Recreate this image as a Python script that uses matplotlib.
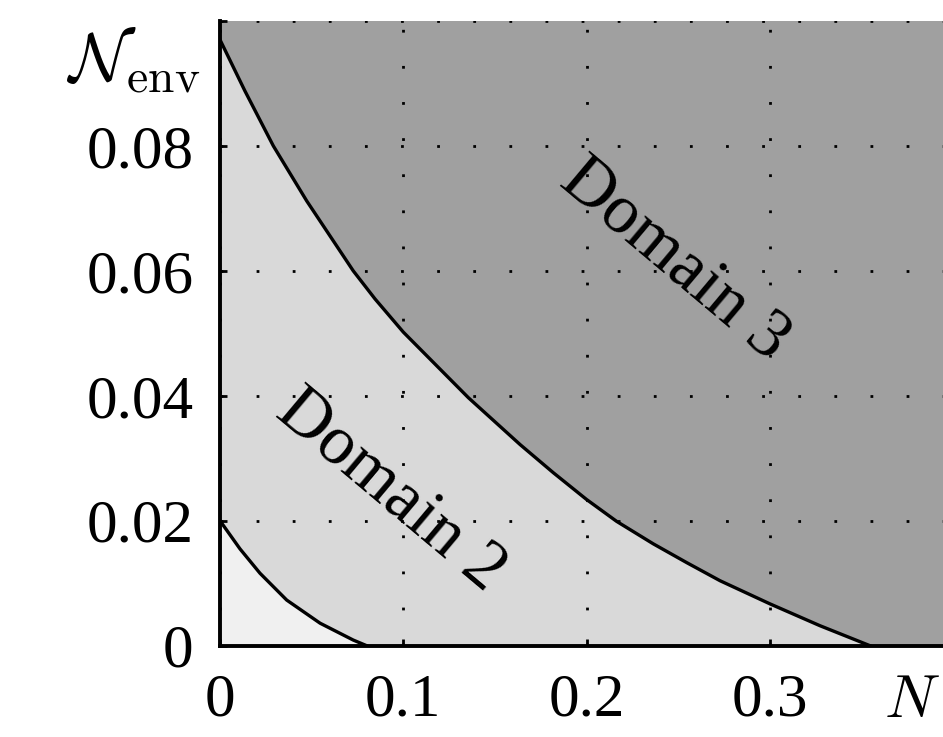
import numpy as np
import matplotlib
matplotlib.use("Agg")
import matplotlib.pyplot as plt
from matplotlib.patches import Rectangle

plt.rcParams['font.family'] = 'serif'
plt.rcParams['font.serif'] = ['Liberation Serif', 'DejaVu Serif']
plt.rcParams['mathtext.fontset'] = 'cm'

# boundary between domain 1 and domain 2
lower_x = [0.0, 0.0109, 0.0218, 0.0364, 0.0546, 0.0727, 0.080]
lower_y = [0.020, 0.0155, 0.0116, 0.0073, 0.0036, 0.0009, 0.0]

# boundary between domain 2 and domain 3
upper_x = [0.0, 0.0136, 0.0291, 0.0473, 0.0727, 0.0846, 0.100, 0.1355, 0.1637,
           0.1818, 0.200, 0.2164, 0.2364, 0.2546, 0.2728, 0.300, 0.3273, 0.3546]
upper_y = [0.0970, 0.0888, 0.0800, 0.0712, 0.0600, 0.0555, 0.0502, 0.0397, 0.0322,
           0.0277, 0.0234, 0.0199, 0.0163, 0.0133, 0.0104, 0.0067, 0.0032, 0.0]

x_ticks = [0, 0.1, 0.2, 0.3]
x_tick_labels = ['0', '0.1', '0.2', '0.3']
y_ticks = [0, 0.02, 0.04, 0.06, 0.08]
y_tick_labels = ['0', '0.02', '0.04', '0.06', '0.08']

fig = plt.figure(figsize=(9.43, 7.37), dpi=100)
ax = fig.add_axes([0.2333, 0.1239, 0.7775, 0.8476])
ax.set_xlim(0, 0.4)
ax.set_ylim(0, 0.1)

ax.set_facecolor('#a0a0a0')
ax.fill(np.r_[upper_x, 0], np.r_[upper_y, 0], color='#d9d9d9', lw=0)
ax.fill(np.r_[lower_x, 0], np.r_[lower_y, 0], color='#f0f0f0', lw=0)
ax.plot(upper_x, upper_y, color='k', lw=2.4, solid_joinstyle='round')
ax.plot(lower_x, lower_y, color='k', lw=2.4, solid_joinstyle='round')

ax.set_xticks(x_ticks)
ax.set_xticklabels(x_tick_labels)
ax.set_yticks(y_ticks + [0.1])
ax.set_yticklabels(y_tick_labels + [''])
ax.tick_params(direction='in', length=5, width=2, labelsize=44)
ax.tick_params(axis='y', pad=19)
ax.tick_params(axis='x', pad=20)
ax.grid(True, color='k', ls=(0, (1, 12)), lw=2)

for s in ['top', 'right']:
    ax.spines[s].set_visible(False)
for s in ['left', 'bottom']:
    ax.spines[s].set_linewidth(2.8)

ax.text(0.0927, 0.0246, 'Domain 2', fontsize=50, rotation=-40,
        ha='center', va='center', rotation_mode='anchor')
ax.text(0.2477, 0.0617, 'Domain 3', fontsize=50, rotation=-40,
        ha='center', va='center', rotation_mode='anchor')

fig.text(0.141, 0.919, r'$\mathcal{N}_{\rm env}$', fontsize=49, ha='center', va='center')
fig.text(0.967, 0.047, r'$N$', fontsize=44, ha='center', va='center')

# the original picture is cut off just under the tick labels
fig.patches.append(Rectangle((0, 0), 1, 13 / 737, transform=fig.transFigure,
                             color='white', zorder=10))

fig.savefig('out.png', dpi=100)
